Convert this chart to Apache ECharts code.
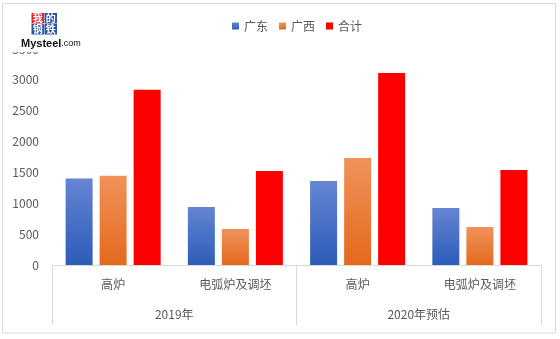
<!DOCTYPE html>
<html>
<head>
<meta charset="utf-8">
<script src="https://cdn.jsdelivr.net/npm/echarts@6/dist/echarts.min.js"></script>
<style>
  html, body { margin: 0; padding: 0; background: #fff; }
  #chart { width: 560px; height: 339px; }
</style>
</head>
<body>
<div id="chart"></div>
<script>
// Sub-categories (inner axis row) and groups (outer axis row)
const categories = ['高炉', '电弧炉及调坯', '高炉', '电弧炉及调坯'];
const groups = ['2019年', '2020年预估'];

// Series values, one per sub-category
const guangdong = [1400, 940, 1360, 925];
const guangxi = [1445, 585, 1735, 615];
const total = [2840, 1525, 3110, 1540];

// Value axis ticks
const yMin = 0;
const yMax = 3500;
const yStep = 500;

const FONT = '"Noto Sans CJK SC", "Microsoft YaHei", sans-serif';
const TEXT = '#595959';
const LINE = '#d9d9d9';

function vGrad(top, bottom) {
  return new echarts.graphic.LinearGradient(0, 0, 0, 1, [
    { offset: 0, color: top },
    { offset: 1, color: bottom }
  ]);
}

const LOGO_Z = 100;
function tile(x, y, fill) {
  return { type: 'rect', z: LOGO_Z, shape: { x: x, y: y, width: 12.5, height: 10.5 }, style: { fill: fill } };
}
function glyph(x, y, ch) {
  return {
    type: 'text', z: LOGO_Z + 1,
    style: { x: x, y: y, text: ch, fill: '#ffffff', font: 'bold 10px "Noto Sans CJK SC"', align: 'center', verticalAlign: 'middle' }
  };
}

const chart = echarts.init(document.getElementById('chart'), null, { renderer: 'canvas' });

chart.setOption({
  animation: false,
  backgroundColor: '#ffffff',
  textStyle: { fontFamily: FONT },
  legend: {
    top: 15,
    left: 227,
    icon: 'rect',
    itemWidth: 7,
    itemHeight: 7,
    itemGap: 11,
    textStyle: { color: TEXT, fontSize: 12, fontFamily: FONT },
    data: ['广东', '广西', '合计']
  },
  grid: { left: 52, right: 19, top: 49, bottom: 74 },
  xAxis: [
    {
      type: 'category',
      data: categories,
      position: 'bottom',
      axisLine: { show: true, lineStyle: { color: LINE, width: 1 } },
      axisTick: { show: false },
      axisLabel: { color: TEXT, fontSize: 12, margin: 13, interval: 0, fontFamily: FONT }
    },
    {
      type: 'category',
      data: groups,
      position: 'bottom',
      gridIndex: 0,
      axisLine: { show: false },
      axisTick: { show: true, length: 60, inside: false, lineStyle: { color: LINE, width: 1 } },
      axisLabel: { color: TEXT, fontSize: 12, margin: 43, interval: 0, fontFamily: FONT }
    }
  ],
  yAxis: {
    type: 'value',
    min: yMin,
    max: yMax,
    interval: yStep,
    axisLine: { show: false },
    axisTick: { show: false },
    splitLine: { show: false },
    axisLabel: {
      color: TEXT, fontSize: 12, margin: 13, fontFamily: FONT,
      formatter: function (v) { return String(v); }
    }
  },
  series: [
    {
      name: '广东',
      type: 'bar',
      xAxisIndex: 0,
      data: guangdong,
      barWidth: 27,
      barGap: '26%',
      itemStyle: { color: vGrad('#6585d2', '#2d5cb9') }
    },
    {
      name: '广西',
      type: 'bar',
      xAxisIndex: 0,
      data: guangxi,
      barWidth: 27,
      barGap: '26%',
      itemStyle: { color: vGrad('#f0925c', '#e4691b') }
    },
    {
      name: '合计',
      type: 'bar',
      xAxisIndex: 0,
      data: total,
      barWidth: 27,
      barGap: '26%',
      itemStyle: { color: '#ff0000' }
    }
  ],
  graphic: [
    // outer chart frame
    {
      type: 'rect',
      shape: { x: 2.5, y: 3.5, width: 553, height: 329.5 },
      style: { fill: null, stroke: LINE, lineWidth: 1 },
      z: 0
    },
    // logo: white backing, 2x2 character tiles, site name
    {
      type: 'rect', z: LOGO_Z,
      shape: { x: 8, y: 6, width: 40, height: 46 },
      style: { fill: '#ffffff' }
    },
    tile(31.5, 13, '#e8202a'),
    tile(44.5, 13, '#2a55a8'),
    tile(31.5, 24, '#2a55a8'),
    tile(44.5, 24, '#2a55a8'),
    glyph(37.7, 18.5, '我'),
    glyph(50.7, 18.5, '的'),
    glyph(37.7, 29.5, '钢'),
    glyph(50.7, 29.5, '铁'),
    {
      type: 'text', z: LOGO_Z + 1,
      style: {
        x: 21, y: 44,
        text: '{a|Mysteel}{b|.com}',
        verticalAlign: 'middle',
        rich: {
          a: { fill: '#111111', font: 'bold 11px "Liberation Sans Narrow", "Liberation Sans", sans-serif' },
          b: { fill: '#111111', font: '9px "Liberation Sans", sans-serif' }
        }
      }
    }
  ]
});
</script>
</body>
</html>
